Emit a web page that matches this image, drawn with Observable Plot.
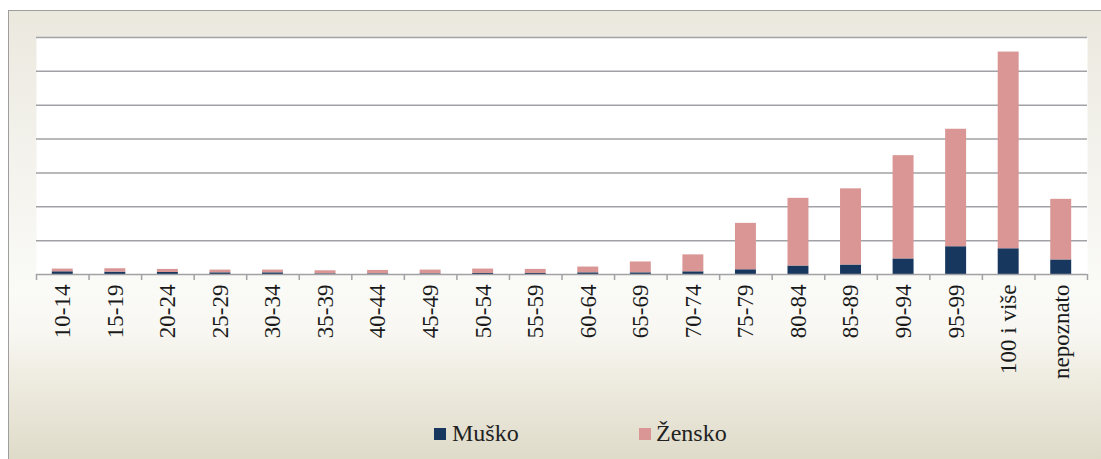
<!DOCTYPE html>
<html>
<head>
<meta charset="utf-8">
<script src="https://cdn.jsdelivr.net/npm/d3@7"></script>
<script src="https://cdn.jsdelivr.net/npm/@observablehq/plot@0.6"></script>
<style>
  html, body { margin: 0; padding: 0; width: 1101px; height: 459px; overflow: hidden; background: #ffffff; }
  #frame {
    position: absolute; left: 8px; top: 10px; width: 1110px; height: 460px;
    border-left: 1.5px solid #9e9e9e; border-top: 1.5px solid #9e9e9e;
    background: linear-gradient(to bottom, #EBE8DE 0px, #F3F2EC 140px, #FAFAF7 280px, #F8F7F2 320px, #EEEBE0 370px, #DFDBC9 449px);
  }
  #chart { position: absolute; left: 0; top: 0; }
  .leg { position: absolute; font-family: "Liberation Serif", "Times New Roman", Times, serif; font-size: 24px; color: #222; line-height: 24px; }
  .sw { position: absolute; width: 12px; height: 12px; }
</style>
</head>
<body>
<div id="frame"></div>
<div id="chart"></div>
<div class="sw" style="left:434px; top:428px; background:#17375E"></div>
<div class="leg" style="left:452px; top:421px">Muško</div>
<div class="sw" style="left:639px; top:428px; background:#D99694"></div>
<div class="leg" style="left:656px; top:421px">Žensko</div>
<script>
const categories = ["10-14","15-19","20-24","25-29","30-34","35-39","40-44","45-49","50-54","55-59","60-64","65-69","70-74","75-79","80-84","85-89","90-94","95-99","100 i više","nepoznato"];
const muskoValues = [0.08,0.07,0.06,0.05,0.05,0.02,0.02,0.02,0.03,0.03,0.05,0.05,0.08,0.14,0.25,0.28,0.46,0.82,0.76,0.43];
const zenskoValues = [0.08,0.10,0.09,0.08,0.08,0.09,0.10,0.11,0.13,0.12,0.17,0.32,0.50,1.37,2.00,2.25,3.05,3.47,5.81,1.79];
const seriesNames = ["Muško","Žensko"];
const seriesColors = ["#17375E","#D99694"];
const gridValues = [1,2,3,4,5,6,7];

const data = [];
categories.forEach((c, i) => {
  data.push({i, cat: c, series: seriesNames[0], value: muskoValues[i]});
  data.push({i, cat: c, series: seriesNames[1], value: zenskoValues[i]});
});

const W = 1101;
const chart = Plot.plot({
  width: W,
  height: 400,
  marginLeft: 36,
  marginRight: 14,
  marginTop: 37,
  marginBottom: 126,
  style: {background: "transparent", overflow: "visible", fontFamily: "'Liberation Serif', 'Times New Roman', serif"},
  x: {domain: [0, categories.length], label: null},
  y: {domain: [0, 7], axis: null},
  color: {domain: seriesNames, range: seriesColors},
  marks: [
    Plot.frame({fill: "white", stroke: null}),
    Plot.ruleY(gridValues, {stroke: "#a2a2a6", strokeWidth: 1.5}),
    Plot.rectY(data, {
      x1: "i", x2: d => d.i + 1, y: "value", fill: "series",
      order: seriesNames, insetLeft: 15.8, insetRight: 15.8
    }),
    Plot.ruleY([0], {stroke: "#a2a2a6", strokeWidth: 1.5}),
    Plot.axisX({ticks: d3.range(categories.length + 1), tickSize: 6, tickFormat: () => "", stroke: "#a2a2a6", strokeWidth: 1.5, label: null}),
    Plot.axisX({
      ticks: d3.range(categories.length).map(i => i + 0.5),
      tickSize: 0, tickPadding: 10, tickRotate: -90,
      tickFormat: v => categories[Math.floor(v)],
      fontSize: 23, fontFamily: "Liberation Serif", fill: "#1a1a1a", label: null
    })
  ]
});
document.getElementById("chart").appendChild(chart);
</script>
</body>
</html>
